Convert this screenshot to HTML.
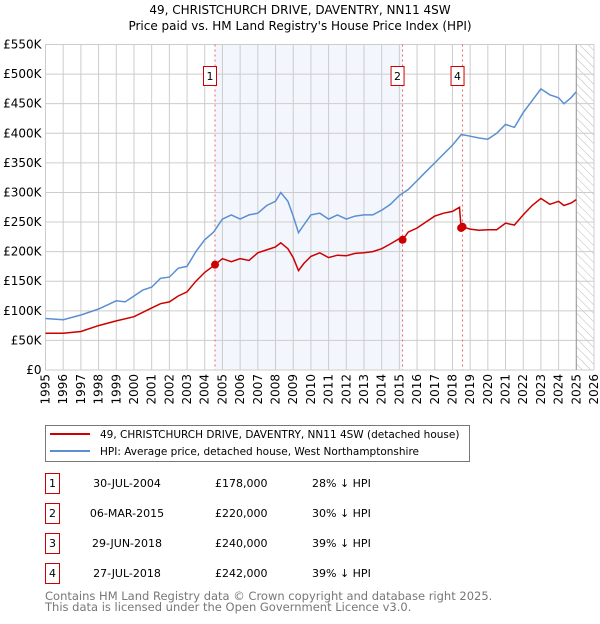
<!DOCTYPE html>
<html><head><meta charset="utf-8"><style>
body{margin:0;background:#fff;font-family:"DejaVu Sans","Liberation Sans",sans-serif;}
svg text{font-family:"DejaVu Sans","Liberation Sans",sans-serif;}
</style></head><body>
<svg id="c" width="600" height="620" xmlns="http://www.w3.org/2000/svg">
<defs><pattern id="hatch" width="6" height="6" patternUnits="userSpaceOnUse" patternTransform="rotate(-45)"><line x1="0" y1="0" x2="0" y2="6" stroke="#bbb" stroke-width="1"/></pattern></defs>
<text x="300" y="14" text-anchor="middle" font-size="12">49, CHRISTCHURCH DRIVE, DAVENTRY, NN11 4SW</text>
<text x="300" y="30" text-anchor="middle" font-size="12">Price paid vs. HM Land Registry's House Price Index (HPI)</text>
<g id="plot"></g>
<rect x="45.5" y="425.5" width="424" height="36" fill="#fff" stroke="#777"/>
<line x1="50" y1="434" x2="90" y2="434" stroke="#cc0000" stroke-width="2"/>
<text x="100" y="438" font-size="10.5">49, CHRISTCHURCH DRIVE, DAVENTRY, NN11 4SW (detached house)</text>
<line x1="50" y1="451" x2="90" y2="451" stroke="#5b8fd1" stroke-width="2"/>
<text x="100" y="455" font-size="10.5">HPI: Average price, detached house, West Northamptonshire</text>
<g id="tbl"></g>
<text x="45" y="600" font-size="11.5" fill="#777">Contains HM Land Registry data © Crown copyright and database right 2025.</text>
<text x="45" y="611" font-size="11.5" fill="#777">This data is licensed under the Open Government Licence v3.0.</text>
</svg>
<script>
const hpiYears=[1995,1996,1997,1998,1999,1999.5,2000,2000.5,2001,2001.5,2002,2002.5,2003,2003.5,2004,2004.5,2005,2005.5,2006,2006.5,2007,2007.5,2008,2008.3,2008.7,2009,2009.3,2009.6,2010,2010.5,2011,2011.5,2012,2012.5,2013,2013.5,2014,2014.5,2015,2015.5,2016,2016.5,2017,2017.5,2018,2018.5,2019,2019.5,2020,2020.5,2021,2021.5,2022,2022.5,2023,2023.5,2024,2024.3,2024.7,2025];
const hpiValues=[87,85,93,103,117,115,125,135,140,155,157,172,175,200,220,233,255,262,255,262,265,278,285,300,285,260,232,245,262,265,255,262,255,260,262,262,270,280,295,305,320,335,350,365,380,398,395,392,390,400,415,410,435,455,475,465,460,450,460,470];
const propYears=[1995,1996,1997,1998,1999,2000,2001,2001.5,2002,2002.5,2003,2003.5,2004,2004.58,2005,2005.5,2006,2006.5,2007,2007.5,2008,2008.3,2008.7,2009,2009.3,2009.6,2010,2010.5,2011,2011.5,2012,2012.5,2013,2013.5,2014,2014.5,2015,2015.18,2015.5,2016,2016.5,2017,2017.5,2018,2018.4,2018.49,2018.57,2019,2019.5,2020,2020.5,2021,2021.5,2022,2022.5,2023,2023.5,2024,2024.3,2024.7,2025];
const propValues=[62,62,65,75,83,90,105,112,115,125,132,150,165,178,188,183,188,185,198,203,208,215,205,190,168,180,192,198,190,194,193,197,198,200,205,213,222,220,233,240,250,260,265,268,275,240,242,238,236,237,237,248,245,262,278,290,280,285,278,282,288];
const saleLabels=["1","2","3","4"];
const saleYears=[2004.58,2015.18,2018.49,2018.57];
const saleValues=[178,220,240,242];
const saleDates=["30-JUL-2004","06-MAR-2015","29-JUN-2018","27-JUL-2018"];
const salePrices=["£178,000","£220,000","£240,000","£242,000"];
const salePcts=["28% ↓ HPI","30% ↓ HPI","39% ↓ HPI","39% ↓ HPI"];
const yTicks=[0,50,100,150,200,250,300,350,400,450,500,550];
const yTickLabels=["£0","£50K","£100K","£150K","£200K","£250K","£300K","£350K","£400K","£450K","£500K","£550K"];
const xTicks=[1995,1996,1997,1998,1999,2000,2001,2002,2003,2004,2005,2006,2007,2008,2009,2010,2011,2012,2013,2014,2015,2016,2017,2018,2019,2020,2021,2022,2023,2024,2025,2026];

const NS="http://www.w3.org/2000/svg";
const L=45.5,R=594,T=44.5,B=370;
const X=y=>L+(y-1995)/(2026-1995)*(R-L);
const Y=v=>B-v/550*(B-T);
const plot=document.getElementById('plot');
function mk(tag,attrs,parent){const e=document.createElementNS(NS,tag);for(const k in attrs)e.setAttribute(k,attrs[k]);(parent||plot).appendChild(e);return e;}

let e=mk('rect',{x:X(saleYears[0]),y:T,width:X(saleYears[1])-X(saleYears[0]),height:B-T,fill:'#eef3fc',opacity:0.7});

e=mk('rect',{x:X(2025),y:T,width:R-X(2025),height:B-T,fill:'url(#hatch)'});

yTicks.forEach((v,i)=>{
 let g=mk('line',{x1:L,x2:R,y1:Y(v),y2:Y(v),stroke:'#ccc'});
 
 let t=mk('text',{x:L-4,y:Y(v)+4,'text-anchor':'end','font-size':12});t.textContent=yTickLabels[i];
 
});
xTicks.forEach(y=>{
 let g=mk('line',{x1:X(y),x2:X(y),y1:T,y2:B,stroke:'#ccc'});
 
 let t=mk('text',{x:0,y:0,'text-anchor':'end','font-size':12,transform:`translate(${X(y)+4},${B+4}) rotate(-90)`});t.textContent=y;
 
});
e=mk('line',{x1:X(2025),x2:X(2025),y1:T,y2:B,stroke:'#999'});

[0,1,3].forEach(i=>{
 let l=mk('line',{x1:X(saleYears[i]),x2:X(saleYears[i]),y1:T,y2:B,stroke:'#e66','stroke-dasharray':'2,3'});
 
});
function path(xs,vs,c,name){let d=xs.map((y,i)=>(i?'L':'M')+X(y).toFixed(1)+','+Y(vs[i]).toFixed(1)).join('');
 let p=mk('path',{d:d,fill:'none',stroke:c,'stroke-width':1.5});}
path(hpiYears,hpiValues,'#5b8fd1','hpi-line');
path(propYears,propValues,'#cc0000','property-line');
saleYears.forEach((y,i)=>{
 let c=mk('circle',{cx:X(y),cy:Y(saleValues[i]),r:4,fill:'#cc0000'});
 
});
[0,1,3].forEach(i=>{
 let g=mk('g',{});
 mk('rect',{x:X(saleYears[i])-11.5,y:66.5,width:13,height:19,fill:'#fff',stroke:'#c00'},g);
 let t=mk('text',{x:X(saleYears[i])-5,y:80,'text-anchor':'middle','font-size':11},g);t.textContent=saleLabels[i];
});
const tbl=document.getElementById('tbl');
saleLabels.forEach((s,i)=>{
 const cy=484+i*30;
 let g=mk('g',{},tbl);
 mk('rect',{x:45.5,y:cy-10.5,width:14,height:20,fill:'#fff',stroke:'#c00'},g);
 let t=mk('text',{x:52.5,y:cy+3,'text-anchor':'middle','font-size':11},g);t.textContent=s;
 t=mk('text',{x:127,y:cy+3,'text-anchor':'middle','font-size':11},g);t.textContent=saleDates[i];
 t=mk('text',{x:215,y:cy+3,'font-size':11},g);t.textContent=salePrices[i];
 t=mk('text',{x:312,y:cy+3,'font-size':11},g);t.textContent=salePcts[i];
});
</script>
</body></html>
